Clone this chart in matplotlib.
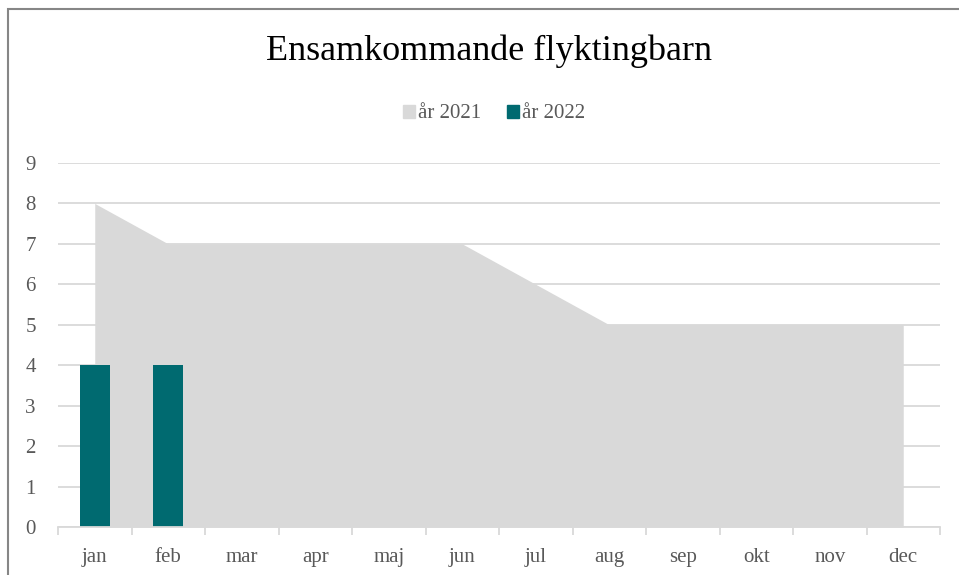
import matplotlib.pyplot as plt
import matplotlib.patches as mpatches
import numpy as np

# data
months = ['jan', 'feb', 'mar', 'apr', 'maj', 'jun', 'jul', 'aug', 'sep', 'okt', 'nov', 'dec']
ar_2021 = [8, 7, 7, 7, 7, 7, 6, 5, 5, 5, 5, 5]
ar_2022 = [4, 4]

c_2021 = '#d9d9d9'
c_2022 = '#006a70'
grid_c = '#d9d9d9'
text_c = '#595959'

plt.rcParams['font.family'] = ['Liberation Serif', 'DejaVu Serif']

fig = plt.figure(figsize=(9.59, 5.75), dpi=100)
ax = fig.add_axes([58 / 959, 1 - 527 / 575, (940 - 58) / 959, (527 - 163) / 575])

x = np.arange(len(months))
ax.fill_between(x, ar_2021, 0, color=c_2021, linewidth=0, zorder=2)
ax.bar(x[:len(ar_2022)], ar_2022, width=0.41, color=c_2022, zorder=3)

ax.set_xlim(-0.5, len(months) - 0.5)
ax.set_ylim(0, 9)
ax.set_yticks(range(10))
ax.yaxis.grid(True, color=grid_c, linewidth=1.3, zorder=1)
ax.set_axisbelow(True)

ax.set_xticks(x)
ax.set_xticklabels(months)
ax.set_xticks(np.arange(-0.5, len(months)), minor=True)
ax.tick_params(axis='x', which='major', length=0, pad=15, labelsize=15, labelcolor=text_c)
ax.tick_params(axis='x', which='minor', length=6, color=grid_c, width=1.3)
ax.tick_params(axis='y', length=0, pad=16, labelsize=15, labelcolor=text_c)

for s in ['top', 'right', 'left']:
    ax.spines[s].set_visible(False)
ax.spines['bottom'].set_color(grid_c)
ax.spines['bottom'].set_linewidth(1.3)
ax.spines['bottom'].set_zorder(4)

fig.text(489 / 959, 1 - 51 / 575, 'Ensamkommande flyktingbarn', ha='center', va='center',
         fontsize=26, color='black')

handles = [mpatches.Patch(color=c_2021, label='år 2021'),
           mpatches.Patch(color=c_2022, label='år 2022')]
fig.legend(handles=handles, loc='center', bbox_to_anchor=(494 / 959, 1 - 114 / 575), ncol=2,
           frameon=False, fontsize=15, labelcolor=text_c, handlelength=0.6,
           handleheight=0.6, handletextpad=0.15, columnspacing=1.2)

# chart frame
fig.patches.append(mpatches.Rectangle((8 / 959, -0.1), 1.1, 1 - 9 / 575 + 0.1,
                                      transform=fig.transFigure, fill=False,
                                      edgecolor='#868686', linewidth=1.5))

plt.savefig('out.png', dpi=100)
